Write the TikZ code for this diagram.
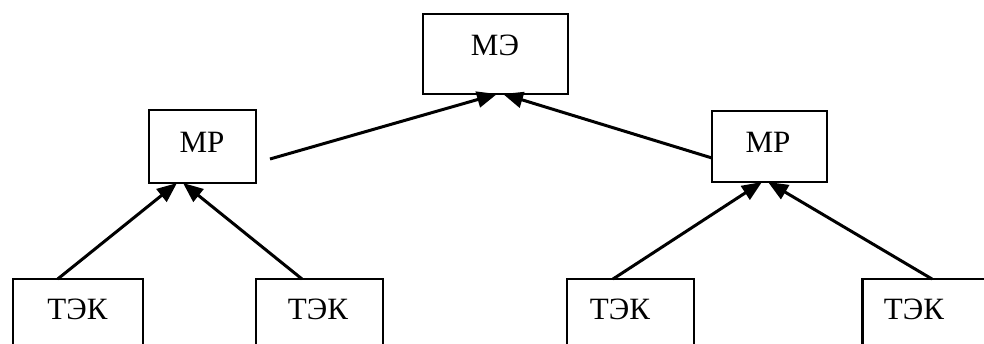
\documentclass[tikz,border=0pt]{standalone}
\usepackage{fontspec}
\setmainfont{Liberation Serif}
\usetikzlibrary{arrows.meta}
\begin{document}
\begin{tikzpicture}[x=1pt,y=-1pt,
  box/.style={draw=black,line width=2.2pt,rectangle,inner sep=0pt,outer sep=0pt},
  lbl/.style={anchor=base,inner sep=0pt,font=\fontsize{31}{36}\selectfont},
  conn/.style={line width=3pt},
  arr/.style={conn,-{Triangle[length=20pt,width=16pt]}}]
\useasboundingbox (0,0) rectangle (984,343);
\clip (0,0) rectangle (984,343);
% boxes
\node[box,minimum width=145pt,minimum height=80pt] (me) at (495.5,54) {};
\node[box,minimum width=107pt,minimum height=73pt] (mpl) at (202.5,146.5) {};
\node[box,minimum width=115pt,minimum height=71pt] (mpr) at (769.5,146.5) {};
\node[box,minimum width=130pt,minimum height=81pt] (t1) at (77.7,319.5) {};
\node[box,minimum width=127pt,minimum height=81pt] (t2) at (319.5,319.5) {};
\node[box,minimum width=127pt,minimum height=81pt] (t3) at (630.5,319.5) {};
\node[box,minimum width=127pt,minimum height=81pt] (t4) at (926,319.5) {};
% labels
\node[lbl] (meT) at (495,55) {МЭ};
\node[lbl] (mplT) at (202,152) {МР};
\node[lbl] (mprT) at (768,152) {МР};
\node[lbl] (t1T) at (77.5,319) {ТЭК};
\node[lbl] (t2T) at (318,319) {ТЭК};
\node[lbl] (t3T) at (620,319) {ТЭК};
\node[lbl] (t4T) at (914,319) {ТЭК};
% connectors
\coordinate (ls) at (270,159);
\coordinate (rs) at (712,158);
\draw[arr] (ls) -- ([xshift=1.5pt]me.south);
\draw[arr] (rs) -- ([xshift=7.5pt]me.south);
\draw[arr] ([xshift=-20pt]t1.north) -- ([xshift=-25.5pt]mpl.south);
\draw[arr] ([xshift=-17.5pt]t2.north) -- ([xshift=-19.5pt]mpl.south);
\draw[arr] ([xshift=-17.5pt]t3.north) -- ([xshift=-7.5pt]mpr.south);
\draw[arr] ([xshift=6pt]t4.north) -- ([xshift=-1.5pt]mpr.south);
\end{tikzpicture}
\end{document}
